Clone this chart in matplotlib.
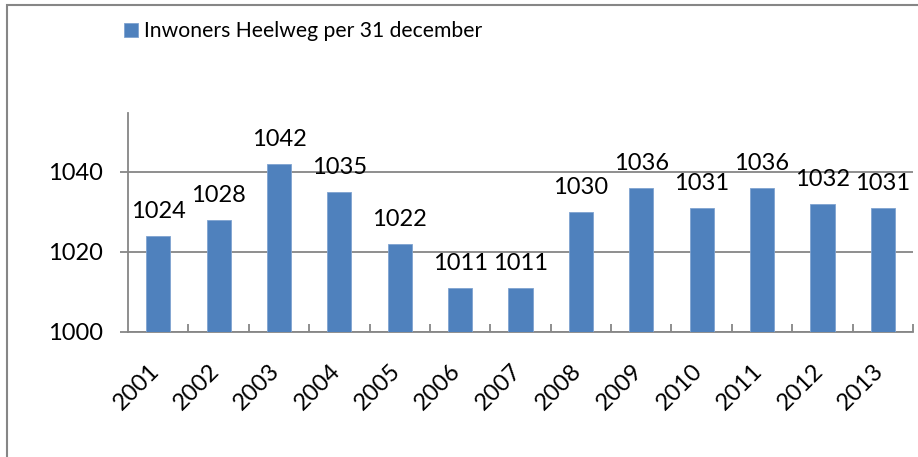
import matplotlib
matplotlib.use("Agg")
import matplotlib.pyplot as plt
import matplotlib.transforms as mtransforms
from matplotlib.patches import Rectangle

years = ["2001", "2002", "2003", "2004", "2005", "2006", "2007",
         "2008", "2009", "2010", "2011", "2012", "2013"]
inwoners = [1024, 1028, 1042, 1035, 1022, 1011, 1011,
            1030, 1036, 1031, 1036, 1032, 1031]
yticks = [1000, 1020, 1040]
legend_label = "Inwoners Heelweg per 31 december"

plt.rcParams['font.family'] = ['Lato', 'DejaVu Sans']
FS = 17
W, H = 918, 457
fig = plt.figure(figsize=(W / 100, H / 100), dpi=100)
ax = fig.add_axes([128 / W, 1 - 332 / H, (913 - 128) / W, (332 - 113) / H])

grey = "#868686"
x = list(range(len(years)))
bars = ax.bar(x, inwoners, width=0.4, color="#4F81BD", edgecolor="#7FA3D0",
              linewidth=0.6, label=legend_label, zorder=3)
for xi, v in zip(x, inwoners):
    ax.annotate(str(v), (xi, v), xytext=(0, 18), textcoords="offset pixels",
                ha="center", va="baseline", fontsize=FS, color="black")

ax.set_xlim(-0.5, len(years) - 0.5)
ax.set_ylim(1000, 1054.75)
ax.set_yticks(yticks)
ax.set_yticklabels([str(t) for t in yticks], fontsize=FS)
ax.yaxis.grid(True, color=grey, linewidth=1.3, zorder=0)
ax.tick_params(axis='y', length=6, width=1.3, color=grey, pad=12, left=True)

# x ticks at category boundaries, pointing inward
ax.set_xticks([i + 0.5 for i in range(len(years))], minor=True)
ax.set_xticks(x)
ax.set_xticklabels(years, rotation=45, ha="right", va="top",
                   rotation_mode="anchor", fontsize=FS)
ax.tick_params(axis='x', which='major', length=0, pad=20)
ax.tick_params(axis='x', which='minor', direction='in', length=6, width=1.3, color=grey)
shift = mtransforms.ScaledTranslation(-10 / 100, 0, fig.dpi_scale_trans)
for lbl in ax.get_xticklabels():
    lbl.set_transform(lbl.get_transform() + shift)

for s in ["top", "right"]:
    ax.spines[s].set_visible(False)
for s in ["left", "bottom"]:
    ax.spines[s].set_color(grey)
    ax.spines[s].set_linewidth(1.3)

leg = fig.legend(handles=[bars], labels=[legend_label], loc="upper left",
                 bbox_to_anchor=(116 / W, 1 - 13 / H), frameon=False,
                 fontsize=15.2, handlelength=0.65, handleheight=0.65,
                 handletextpad=0.3, borderaxespad=0)

fig.patches.append(Rectangle((6.5 / W, -0.1), 1.2, 1 - 5.5 / H + 0.1,
                             transform=fig.transFigure, fill=False,
                             edgecolor=grey, linewidth=1.5))

fig.savefig("out.png", dpi=100)
